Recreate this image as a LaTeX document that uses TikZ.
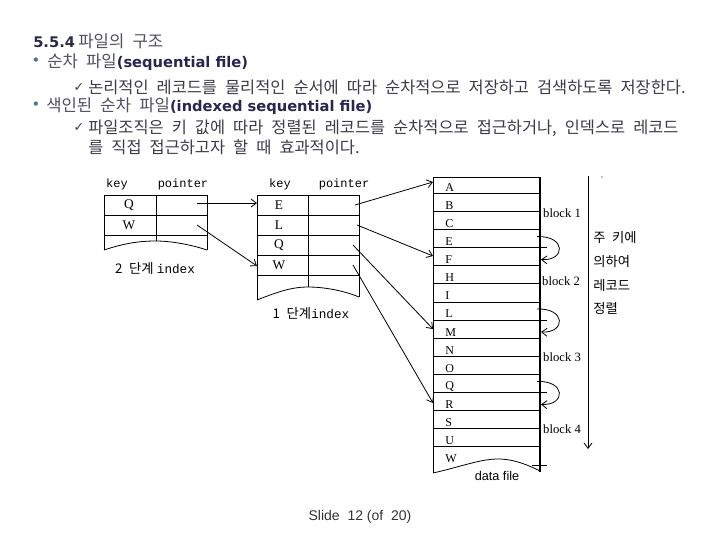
\documentclass[tikz,border=0pt]{standalone}
\usepackage{fontspec}
\setmainfont{Liberation Serif}
\newfontfamily\kr[WordSpace=2.2]{Noto Sans CJK KR}
\newfontfamily\dv{DejaVu Sans}
\newfontfamily\lsans{Liberation Sans}
\newfontfamily\lmono{Liberation Mono}
\usetikzlibrary{arrows.meta}
\definecolor{ttl}{HTML}{2B2B48}
\definecolor{kgrey}{HTML}{50505F}
\definecolor{navy}{HTML}{262650}
\definecolor{bgrey}{HTML}{3C3C48}
\definecolor{bul}{HTML}{5B6B8C}
\definecolor{foot}{HTML}{333333}
\begin{document}
\begin{tikzpicture}[x=0.75pt,y=-0.75pt,
  every node/.style={inner sep=0pt},
  txt/.style={anchor=base west},
  ln/.style={line width=0.6pt},
  thick border/.style={line width=1.5pt},
  arr/.style={line width=0.6pt,-{Straight Barb[length=4pt,width=6pt]}},
  hdr/.style={font=\lmono\fontsize{9}{10}\selectfont},
  cell/.style={font=\fontsize{10}{11}\selectfont},
  dlab/.style={anchor=west,font=\fontsize{9}{10}\selectfont},
  blk/.style={font=\fontsize{9.5}{10}\selectfont},
  rlab/.style={anchor=west,font=\kr\fontsize{10}{11}\selectfont},
  bullet/.style={font=\dv\fontsize{11}{12}\selectfont,text=bul},
  check/.style={font=\dv\fontsize{9.5}{10}\selectfont,text=bgrey},
  lvlone/.style={txt,font=\kr\fontsize{12.5}{14}\selectfont,text=kgrey},
  lvltwo/.style={txt,font=\kr\fontsize{12.3}{14}\selectfont,text=bgrey}]
\useasboundingbox (0,0) rectangle (720,540);
\fill[white] (0,0) rectangle (720,540);

% ---------- text block ----------
\node[txt] (title) at (33,47) {{\dv\bfseries\fontsize{11}{12}\selectfont\color{ttl}5.5.4} {\kr\fontsize{12.5}{15}\selectfont\color{kgrey}파일의 구조}};
\node[bullet] (b1) at (36,62) {•};
\node[lvlone] (l1) at (47,67) {순차 파일{\dv\bfseries\fontsize{11}{12}\selectfont\color{navy}(sequential file)}};
\node[check] (c1) at (79,88) {✓};
\node[lvltwo] (l2) at (88,93) {논리적인 레코드를 물리적인 순서에 따라 순차적으로 저장하고 검색하도록 저장한다.};
\node[bullet] (b2) at (36,106) {•};
\node[lvlone] (l3) at (46,111) {색인된 순차 파일{\dv\bfseries\fontsize{11}{12}\selectfont\color{navy}(indexed sequential file)}};
\node[check] (c2) at (79,128) {✓};
\node[lvltwo] (l4) at (88,133) {파일조직은 키 값에 따라 정렬된 레코드를 순차적으로 접근하거나, 인덱스로 레코드};
\node[lvltwo] (l5) at (88,153) {를 직접 접근하고자 할 때 효과적이다.};

% ---------- 2-level index ----------
\node[hdr] (k2) at (117,184) {key};
\node[hdr] (p2) at (183,184) {pointer};
\draw[ln] (104,195) -- (207,195) (104,215) -- (207,215) (104,235) -- (207,235);
\draw[ln] (104,195) -- (104,250) (156,195) -- (156,241) (207,195) -- (207,250);
\draw[ln] (104,250) .. controls (125,243) and (140,241) .. (156,241)
                    .. controls (172,241) and (192,245) .. (207,250);
\node[cell] (iiQ) at (129,205) {Q};
\node[cell] (iiW) at (129,225) {W};
\node (lab2) at (155,268) {{\kr\fontsize{10}{11}\selectfont 2 단계} {\lmono\fontsize{9.5}{10}\selectfont index}};

% ---------- 1-level index ----------
\node[hdr] (k1) at (280,184) {key};
\node[hdr] (p1) at (344,184) {pointer};
\draw[ln] (257,195) -- (359,195) (257,215) -- (359,215) (257,235) -- (359,235)
          (257,255) -- (359,255) (257,275) -- (359,275);
\draw[ln] (257,195) -- (257,300) (308,195) -- (308,287) (359,195) -- (359,297);
\draw[ln] (257,300) .. controls (275,293) and (290,287) .. (308,287)
                    .. controls (325,287) and (345,291) .. (359,297);
\node[cell] (iE) at (279,205) {E};
\node[cell] (iL) at (279,225) {L};
\node[cell] (iQ) at (279,245) {Q};
\node[cell] (iW) at (279,265) {W};
\node (lab1) at (311,313) {{\kr\fontsize{10}{11}\selectfont 1 단계}{\lmono\fontsize{9.5}{10}\selectfont index}};

% ---------- data file ----------
\draw[ln] (433,177.7) -- (540,177.7);
\foreach \j in {0,1,2,4,5,6,8,9,10,12,13,14}
  \draw[ln] (433,{193.3+18.1*\j}) -- (540,{193.3+18.1*\j});
\foreach \j in {3,7,11}
  \draw[ln] (433,{193.3+18.1*\j}) -- (547,{193.3+18.1*\j});
\draw[ln] (433,177.7) -- (433,473);
\draw[ln] (433,473) .. controls (460,467) and (480,459) .. (498,459)
                    .. controls (515,459) and (530,466) .. (540,471);
\draw[ln] (532,465) -- (547,465);
\draw[thick border] (540,177) -- (540,472);
\foreach \l [count=\i from 0] in {A,B,C,E,F,H,I,L,M,N,O,Q,R,S,U,W}
  \node[dlab] (d\l) at (445,{193.3+18.1*\i-6}) {\l};
\node (df) at (497,476) {\lsans\fontsize{9.5}{11}\selectfont data file};

% overflow loops
\foreach \j in {3,7,11}{
  \coordinate (ls\j) at (537,{193.3+18.1*\j-11});
  \coordinate (le\j) at (541,{193.3+18.1*\j+12});
  \draw[arr] (ls\j) .. controls (566,{193.3+18.1*\j-12}) and (566,{193.3+18.1*\j+13}) .. (le\j);
}
\node[blk] (bk1) at (562,213) {block 1};
\node[blk] (bk2) at (561,281) {block 2};
\node[blk] (bk3) at (562,357) {block 3};
\node[blk] (bk4) at (562,429) {block 4};

% right side
\coordinate (vt) at (588,176);
\coordinate (vb) at (588,449);
\draw[arr] (vt) -- (vb);
\fill (602,177) circle (0.7);
\node[rlab] (r1) at (593,237) {주 키에};
\node[rlab] (r2) at (593,262) {의하여};
\node[rlab] (r3) at (593,285) {레코드};
\node[rlab] (r4) at (593,308) {정렬};

% ---------- pointers ----------
\coordinate (pQ2) at (197,203);
\coordinate (pW2) at (197,225);
\coordinate (tE1) at (257,203);
\coordinate (tW1) at (257,266);
\draw[arr] (pQ2) -- (tE1);
\draw[arr] (pW2) -- (tW1);
\coordinate (pE1) at (355,205);
\coordinate (pL1) at (357,225);
\coordinate (pQ1) at (353,245);
\coordinate (pW1) at (353,265);
\coordinate (tA) at (433,182);
\coordinate (tF) at (433,256);
\coordinate (tM) at (433,329);
\coordinate (tR) at (433,403);
\draw[arr] (pE1) -- (tA);
\draw[arr] (pL1) -- (tF);
\draw[arr] (pQ1) -- (tM);
\draw[arr] (pW1) -- (tR);

% footer
\node[text=foot] (ft) at (360,517) {\lsans\fontsize{10.5}{12}\selectfont Slide\ \ 12 (of\ \ 20)};
\end{tikzpicture}
\end{document}
